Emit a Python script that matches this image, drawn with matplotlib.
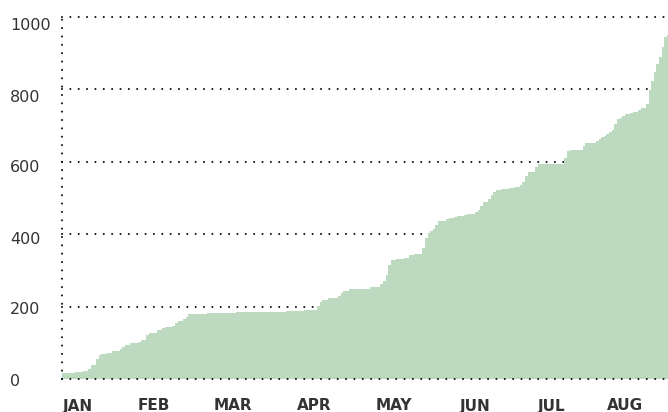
import matplotlib
matplotlib.use("Agg")
import matplotlib.pyplot as plt

# ─── DATA ────────────────────────────────────────────────────────────────────
# day of year (0 = Jan 1) where the running total changes, and the new total
DAYS = [0, 5, 8, 10, 11, 13, 14, 15, 17, 19, 22, 23, 24, 26, 29, 30, 32, 33,
        36, 38, 39, 42, 43, 44, 46, 47, 48, 55, 66, 85, 92, 97, 98, 99, 101,
        105, 106, 107, 109, 114, 117, 121, 122, 123, 124, 125, 127, 130, 132,
        134, 137, 138, 139, 140, 141, 142, 143, 146, 147, 149, 150, 153, 154,
        157, 158, 159, 160, 162, 163, 164, 165, 167, 170, 172, 174, 175, 176,
        177, 180, 181, 191, 192, 193, 198, 199, 203, 204, 205, 206, 207, 208,
        209, 210, 211, 212, 213, 214, 216, 217, 219, 220, 221, 222, 223, 224,
        225, 226, 227, 228, 229, 230]
TOTALS = [17, 19, 23, 27, 38, 55, 67, 70, 73, 78, 84, 89, 94, 100, 103, 109,
          121, 128, 135, 140, 144, 147, 156, 161, 165, 172, 180, 182, 186, 189,
          191, 202, 213, 218, 224, 229, 237, 242, 248, 250, 254, 262, 271, 287,
          315, 329, 331, 335, 342, 345, 361, 390, 404, 410, 414, 425, 436, 442,
          445, 448, 450, 453, 456, 461, 467, 478, 490, 496, 508, 516, 521, 525,
          528, 530, 536, 545, 561, 572, 586, 594, 611, 630, 633, 644, 652, 658,
          664, 668, 671, 678, 682, 689, 704, 718, 722, 727, 732, 735, 738, 743,
          748, 750, 761, 798, 823, 849, 870, 889, 918, 944, 950]

MONTHS = ["JAN", "FEB", "MAR", "APR", "MAY", "JUN", "JUL", "AUG"]
MONTH_POS = [6, 35, 65, 96, 126, 157, 186, 214]
YTICKS = [0, 200, 400, 600, 800, 1000]

# ─── STYLE ───────────────────────────────────────────────────────────────────
FILL = "#bddac0"
DOT = "#111111"
TEXT = "#333333"
W, H = 668, 412
X_END = 230.4
DOTS = dict(color=DOT, lw=1.5, ls=(0, (0.01, 4)), dash_capstyle="round",
            clip_on=False)

fig = plt.figure(figsize=(W / 100, H / 100), dpi=100)
ax = fig.add_axes([62 / W, (H - 379) / H, (W - 62) / W, (379 - 17) / H])
ax.set_xlim(0, X_END)
ax.set_ylim(0, 1000)
ax.axis("off")

# gridlines sit behind the area
for v in YTICKS[1:]:
    ax.axhline(v, zorder=1, **DOTS)

xs = DAYS + [X_END + 1]
ys = TOTALS + [TOTALS[-1]]
ax.fill_between(xs, 0, ys, step="post", color=FILL, lw=0, zorder=2)

# left axis and baseline on top
ax.axhline(0, zorder=3, **DOTS)
ax.axvline(0, ymin=0, ymax=1, zorder=3, **DOTS)

# y labels, left aligned near the figure edge
for v in YTICKS:
    dy = -(2 + 7 * v / 1000)
    ax.annotate(str(v), xy=(0, v), xycoords=("axes fraction", "data"),
                xytext=(-52, dy), textcoords="offset pixels",
                ha="left", va="center", fontsize=11.5, color=TEXT)

# month labels
for m, d in zip(MONTHS, MONTH_POS):
    ax.annotate(m, xy=(d, 0), xycoords="data", xytext=(0, -27),
                textcoords="offset pixels", ha="center", va="center",
                fontsize=11, fontweight="bold", color=TEXT)

fig.savefig("out.png", dpi=100)
